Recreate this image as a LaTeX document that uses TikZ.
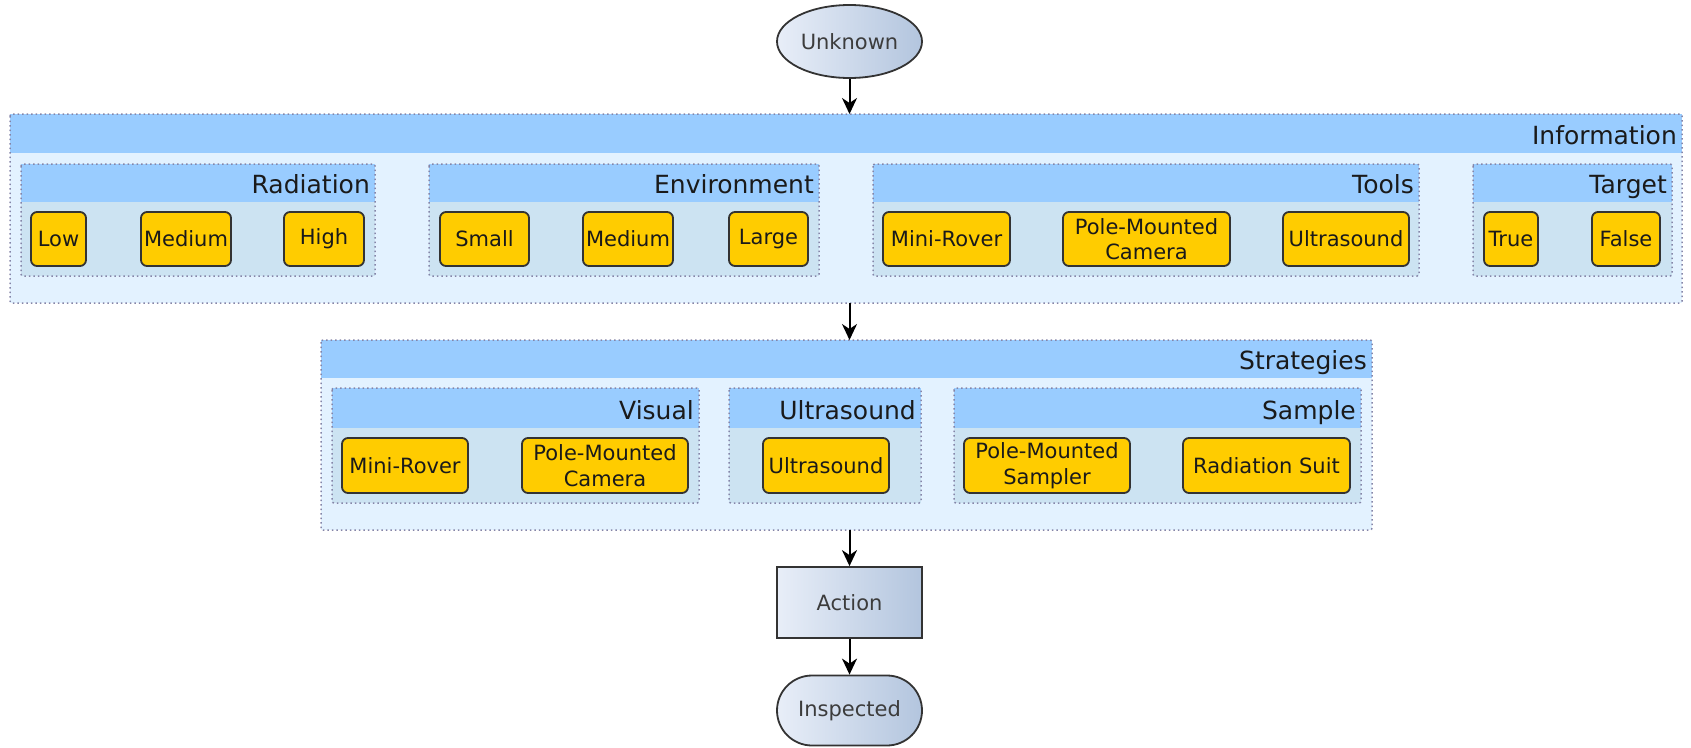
\documentclass[tikz,border=0pt]{standalone}
\usepackage{fontspec}
\setmainfont{DejaVu Sans}
\usetikzlibrary{arrows.meta,calc,shapes.geometric,shapes.misc}
\definecolor{hdr}{HTML}{99CCFF}
\definecolor{outerbody}{HTML}{E3F2FF}
\definecolor{grpbody}{HTML}{CCE3F2}
\definecolor{dotc}{HTML}{8585A8}
\definecolor{itemfill}{HTML}{FFCC00}
\definecolor{itemdraw}{HTML}{333333}
\definecolor{gradl}{HTML}{E8EEF8}
\definecolor{gradr}{HTML}{B3C5DE}
\definecolor{txt}{HTML}{1A1A1A}
\tikzset{
  item/.style={draw=itemdraw, line width=1.8pt, fill=itemfill, rounded corners=6pt,
    inner sep=0pt, align=center, font=\fontsize{21}{25.5}\selectfont, text=txt},
  grpnode/.style={inner sep=0pt, outer sep=0pt, draw=none},
  dotborder/.style={draw=dotc, line width=1.5pt, dash pattern=on 1.5pt off 3pt, rounded corners=2pt},
  title/.style={inner sep=0pt, font=\fontsize{25}{29}\selectfont, text=txt},
  flow/.style={draw=itemdraw, line width=1.8pt, left color=gradl, right color=gradr,
    inner sep=0pt, font=\fontsize{21}{25}\selectfont, text=txt!85},
  arr/.style={line width=2pt, -{Stealth[length=16pt,width=15pt,inset=5pt]}},
}
% name, left, top, header bottom, right, bottom, title, body colour
\newcommand\mygroup[8]{%
  \node[grpnode, fill=#8, anchor=north west, minimum width={#5-#2}, minimum height={#6-#3}] (#1) at (#2,#3) {};
  \fill[hdr] (#1.north west) rectangle (#5,#4);
  \draw[dotborder] (#1.north west) rectangle (#1.south east);
  \node[title, anchor=base east] (#1-title) at ({#5-5},{#4-9}) {#7};
}
% name, left, right, centre y, height, text
\newcommand\myitem[6]{%
  \node[item, minimum width={#3-#2}, minimum height={#5}] (#1) at ({(#2+#3)/2},#4) {#6};
}
\begin{document}
\begin{tikzpicture}[x=1pt,y=-1pt]
\useasboundingbox (0,0) rectangle (1691,747);

% Unknown
\node[flow, ellipse, minimum width=145pt, minimum height=73pt] (unk) at (849.5,41.5) {Unknown};

% Information
\mygroup{info}{10}{114}{153}{1682}{303}{Information}{outerbody}
\mygroup{rad}{21}{164}{202}{375}{276}{Radiation}{grpbody}
\mygroup{env}{429}{164}{202}{819}{276}{Environment}{grpbody}
\mygroup{tools}{873}{164}{202}{1419}{276}{Tools}{grpbody}
\mygroup{target}{1473}{164}{202}{1672}{276}{Target}{grpbody}

\myitem{low}{31}{86}{239}{54}{Low}
\myitem{radmed}{141}{231}{239}{54}{Medium}
\myitem{high}{284}{364}{239}{54}{High}
\myitem{small}{440}{529}{239}{54}{Small}
\myitem{envmed}{583}{673}{239}{54}{Medium}
\myitem{large}{729}{808}{239}{54}{Large}
\myitem{toolrover}{883}{1010}{239}{54}{Mini-Rover}
\myitem{toolcam}{1063}{1230}{239}{54}{Pole-Mounted\\Camera}
\myitem{toolus}{1283}{1409}{239}{54}{Ultrasound}
\myitem{true}{1484}{1538}{239}{54}{True}
\myitem{false}{1592}{1660}{239}{54}{False}

% Strategies
\mygroup{strat}{321}{340}{378}{1372}{530}{Strategies}{outerbody}
\mygroup{visual}{332}{388}{428}{699}{503}{Visual}{grpbody}
\mygroup{ultra}{729}{388}{428}{921}{503}{Ultrasound}{grpbody}
\mygroup{sample}{954}{388}{428}{1361}{503}{Sample}{grpbody}

\myitem{srover}{342}{468}{465.5}{55}{Mini-Rover}
\myitem{scam}{522}{688}{465.5}{55}{Pole-Mounted\\Camera}
\myitem{sus}{763}{889}{465.5}{55}{Ultrasound}
\myitem{ssampler}{964}{1130}{465.5}{55}{Pole-Mounted\\Sampler}
\myitem{ssuit}{1183}{1350}{465.5}{55}{Radiation Suit}

% Action and Inspected
\node[flow, rectangle, minimum width=145pt, minimum height=71pt] (act) at (849.5,602.5) {Action};
\node[flow, rounded rectangle, minimum width=145pt, minimum height=70pt] (insp) at (849.5,710.5) {Inspected};

% connectors
\draw[arr] (unk.south) -- (unk.south |- info.north);
\draw[arr] (unk.south |- info.south) -- (unk.south |- strat.north);
\draw[arr] (act.north |- strat.south) -- (act.north);
\draw[arr] (act.south) -- (insp.north);
\end{tikzpicture}
\end{document}
